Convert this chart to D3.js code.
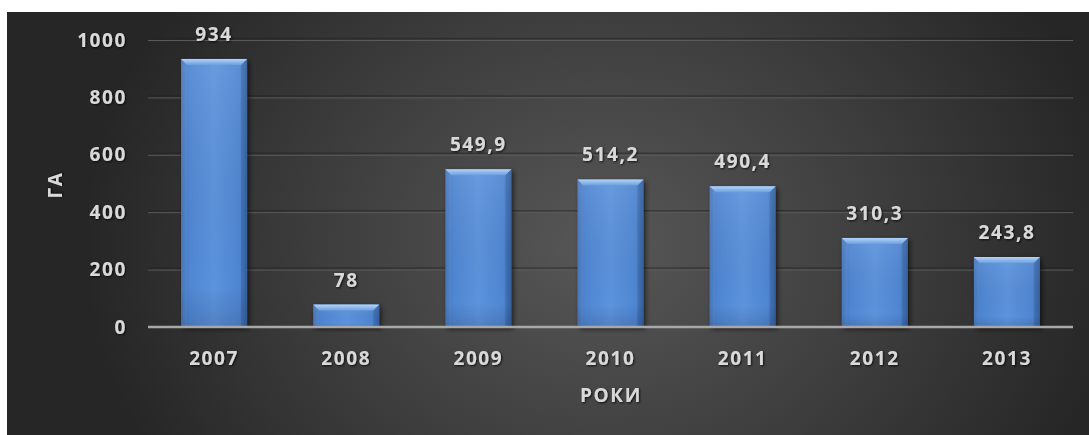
<!DOCTYPE html>
<html><head><meta charset="utf-8">
<script src="https://cdn.jsdelivr.net/npm/d3@7/dist/d3.min.js"></script>
<style>
html,body{margin:0;padding:0;background:#fff;}
svg{display:block;}
text{font-family:"Open Sans",Lato,sans-serif;font-weight:bold;letter-spacing:1.6px;}
</style></head><body>
<script>
const years = ["2007","2008","2009","2010","2011","2012","2013"];
const values = [934, 78, 549.9, 514.2, 490.4, 310.3, 243.8];
const valueLabels = ["934","78","549,9","514,2","490,4","310,3","243,8"];
const yTicks = [0,200,400,600,800,1000];
const yTitle = "ГА";
const xTitle = "РОКИ";

const W = 1089, H = 435;
const FONT = "'Open Sans',Lato,sans-serif";
const FS = "19px";
const svg = d3.select("body").append("svg").attr("width", W).attr("height", H);
const defs = svg.append("defs");

const bg = defs.append("radialGradient").attr("id","bg")
  .attr("cx","0.55").attr("cy","0.55").attr("r","0.6")
  .attr("gradientTransform","translate(0.55,0.55) scale(0.8,1.7) translate(-0.55,-0.55)");
bg.append("stop").attr("offset","0").attr("stop-color","#575757");
bg.append("stop").attr("offset","0.55").attr("stop-color","#3d3d3d");
bg.append("stop").attr("offset","1").attr("stop-color","#262626");

const barG = defs.append("linearGradient").attr("id","barG").attr("x1","0").attr("x2","1").attr("y1","0").attr("y2","0");
barG.append("stop").attr("offset","0").attr("stop-color","#3d6fb8");
barG.append("stop").attr("offset","0.12").attr("stop-color","#4f86d2");
barG.append("stop").attr("offset","0.5").attr("stop-color","#5c93dc");
barG.append("stop").attr("offset","0.88").attr("stop-color","#4f86d2");
barG.append("stop").attr("offset","1").attr("stop-color","#3a6bb3");

const barV = defs.append("linearGradient").attr("id","barV").attr("x1","0").attr("x2","0").attr("y1","0").attr("y2","1");
barV.append("stop").attr("offset","0").attr("stop-color","#ffffff").attr("stop-opacity","0.08");
barV.append("stop").attr("offset","0.85").attr("stop-color","#000000").attr("stop-opacity","0");
barV.append("stop").attr("offset","1").attr("stop-color","#000000").attr("stop-opacity","0.12");

const topG = defs.append("linearGradient").attr("id","topG").attr("x1","0").attr("x2","0").attr("y1","0").attr("y2","1");
topG.append("stop").attr("offset","0").attr("stop-color","#b4d4f7");
topG.append("stop").attr("offset","1").attr("stop-color","#6c9fe0");

const sh = defs.append("filter").attr("id","sh").attr("x","-20%").attr("y","-20%").attr("width","140%").attr("height","140%");
sh.append("feDropShadow").attr("dx","2").attr("dy","2").attr("stdDeviation","2.5").attr("flood-color","#000").attr("flood-opacity","0.6");

const tsh = defs.append("filter").attr("id","tsh").attr("x","-20%").attr("y","-30%").attr("width","140%").attr("height","160%");
tsh.append("feDropShadow").attr("dx","1").attr("dy","1").attr("stdDeviation","1.2").attr("flood-color","#000").attr("flood-opacity","0.8");

svg.append("rect").attr("x",7).attr("y",12).attr("width",W-7).attr("height",H-12).attr("fill","url(#bg)");

const x = d3.scaleBand().domain(years).range([148,1073]).paddingInner(0.5).paddingOuter(0.25);
const y = d3.scaleLinear().domain([0,1000]).range([327,40]);

// gridlines
const grid = svg.append("g");
yTicks.filter(d=>d>0).forEach(t=>{
  grid.append("line").attr("x1",148).attr("x2",1073).attr("y1",y(t)-1.5).attr("y2",y(t)-1.5).attr("stroke","#222").attr("stroke-opacity",0.5).attr("stroke-width",1.5);
  grid.append("line").attr("x1",148).attr("x2",1073).attr("y1",y(t)+0.5).attr("y2",y(t)+0.5).attr("stroke","#5a5a5a").attr("stroke-width",1);
});

// bars
const bw = x.bandwidth();
const bars = svg.append("g").selectAll("g").data(values).join("g");
bars.append("rect").attr("x",(d,i)=>x(years[i])).attr("y",d=>y(d)).attr("width",bw).attr("height",d=>y(0)-y(d))
  .attr("fill","url(#barG)").attr("filter","url(#sh)");
bars.append("rect").attr("x",(d,i)=>x(years[i])).attr("y",d=>y(d)).attr("width",bw).attr("height",d=>y(0)-y(d))
  .attr("fill","url(#barV)");
bars.append("path").attr("d",(d,i)=>{
  const x0 = x(years[i]), y0 = y(d), b = 6;
  return `M${x0},${y0}L${x0+bw},${y0}L${x0+bw-b},${y0+b}L${x0+b},${y0+b}Z`;
}).attr("fill","url(#topG)");
bars.append("path").attr("d",(d,i)=>{
  const x0 = x(years[i]), y0 = y(d), b = 6;
  return `M${x0},${y0}L${x0+b},${y0+b}L${x0+b},${y(0)}L${x0},${y(0)}Z`;
}).attr("fill","#ffffff").attr("fill-opacity",0.05);
bars.append("path").attr("d",(d,i)=>{
  const x0 = x(years[i]), y0 = y(d), b = 6;
  return `M${x0+bw},${y0}L${x0+bw-b},${y0+b}L${x0+bw-b},${y(0)}L${x0+bw},${y(0)}Z`;
}).attr("fill","#000").attr("fill-opacity",0.1);

// value labels
svg.append("g").selectAll("text").data(values).join("text")
  .attr("x",(d,i)=>x(years[i])+bw/2).attr("y",d=>y(d)-18)
  .attr("text-anchor","middle").attr("fill","#d9d9d9").attr("font-size",FS)
  .attr("filter","url(#tsh)").text((d,i)=>valueLabels[i]);

// x axis line
svg.append("line").attr("x1",148).attr("x2",1073).attr("y1",y(0)).attr("y2",y(0)).attr("stroke","#a8a8a8").attr("stroke-width",2.5);

// y axis labels
const yAxis = d3.axisLeft(y).tickValues(yTicks).tickSize(0).tickPadding(0).tickFormat(d3.format("d"));
const ya = svg.append("g").attr("transform","translate(127,0)").call(yAxis);
ya.select(".domain").remove();
ya.selectAll("text").attr("fill","#d9d9d9").attr("font-size",FS).attr("font-family",FONT).attr("font-weight","bold").attr("filter","url(#tsh)");

// x axis labels
const xAxis = d3.axisBottom(x).tickSize(0).tickPadding(0);
const xa = svg.append("g").attr("transform","translate(0,351)").call(xAxis);
xa.select(".domain").remove();
xa.selectAll("text").attr("dy","0.72em").attr("fill","#d9d9d9").attr("font-size",FS).attr("font-family",FONT).attr("font-weight","bold").attr("filter","url(#tsh)");

// titles
svg.append("text").attr("x",611).attr("y",402).attr("text-anchor","middle").attr("fill","#d9d9d9").attr("font-size",FS).attr("filter","url(#tsh)").text(xTitle);
svg.append("text").attr("transform","translate(62,185) rotate(-90)").attr("text-anchor","middle").attr("fill","#d9d9d9").attr("font-size",FS).attr("filter","url(#tsh)").text(yTitle);
</script>
</body></html>
